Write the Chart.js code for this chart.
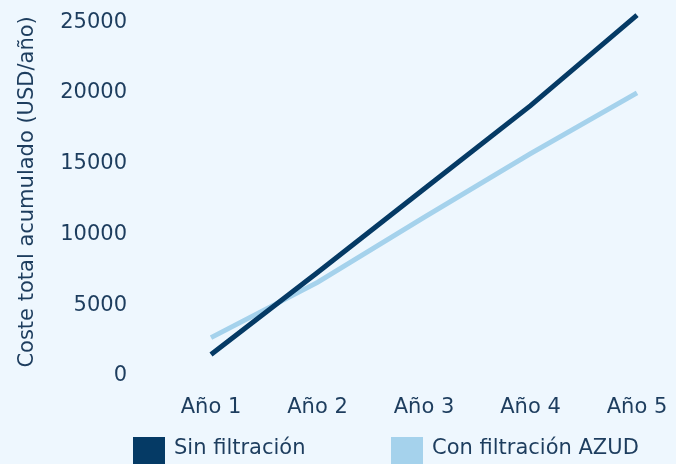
<!DOCTYPE html>
<html>
<head>
<meta charset="utf-8">
<script src="https://cdn.jsdelivr.net/npm/chart.js@4/dist/chart.umd.min.js"></script>
<style>
  html, body { margin: 0; padding: 0; background: #eef7fe; overflow: hidden; }
  canvas { display: block; }
</style>
</head>
<body>
<canvas id="chart" width="676" height="464"></canvas>
<script>
const years = ['Año 1', 'Año 2', 'Año 3', 'Año 4', 'Año 5'];
const sinFiltracion = [1500, 7300, 13200, 19100, 25500];
const conFiltracion = [2700, 6600, 11200, 15700, 20000];
const yTicks = [0, 5000, 10000, 15000, 20000, 25000];
const yMax = 26000;

const textColor = '#1d3d5e';
const fontFamily = '"DejaVu Sans", sans-serif';

// legend drawn by hand so the boxes sit where the original has them
const bottomLegend = {
  id: 'bottomLegend',
  afterDraw(chart) {
    const ctx = chart.ctx;
    const spots = [133, 391];
    ctx.save();
    ctx.font = '21px ' + fontFamily;
    ctx.textBaseline = 'middle';
    ctx.textAlign = 'left';
    chart.data.datasets.forEach((ds, i) => {
      const x = spots[i];
      ctx.fillStyle = ds.borderColor;
      ctx.fillRect(x, 437, 32, 30);
      ctx.fillStyle = textColor;
      ctx.fillText(ds.label, x + 41, 449);
    });
    ctx.restore();
  },
};

new Chart(document.getElementById('chart'), {
  type: 'line',
  data: {
    labels: years,
    datasets: [
      {
        label: 'Sin filtración',
        data: sinFiltracion,
        borderColor: '#053a65',
        backgroundColor: '#053a65',
        borderWidth: 5,
        pointRadius: 0,
        tension: 0,
      },
      {
        label: 'Con filtración AZUD',
        data: conFiltracion,
        borderColor: '#a5d2ec',
        backgroundColor: '#a5d2ec',
        borderWidth: 5,
        pointRadius: 0,
        tension: 0,
      },
    ],
  },
  options: {
    responsive: false,
    animation: false,
    layout: {
      padding: { top: 8, right: 39, bottom: 25, left: 0 },
    },
    scales: {
      x: {
        offset: false,
        grid: { display: false, drawTicks: false },
        border: { display: false },
        ticks: {
          color: textColor,
          font: { family: fontFamily, size: 21 },
          padding: 19,
          maxRotation: 0,
        },
        afterFit(scale) {
          // tick padding would otherwise widen the side margins
          scale.paddingLeft = 0;
          scale.paddingRight = 0;
        },
      },
      y: {
        min: 0,
        max: yMax,
        grid: { display: false, drawTicks: false },
        border: { display: false },
        ticks: {
          color: textColor,
          font: { family: fontFamily, size: 21 },
          padding: 84,
          callback: (v) => String(v),
        },
        afterBuildTicks(scale) {
          scale.ticks = yTicks.map((v) => ({ value: v }));
        },
        afterFit(scale) {
          scale.width = 211;
          scale.paddingTop = 0;
          scale.paddingBottom = 0;
        },
        title: {
          display: true,
          text: 'Coste total acumulado (USD/año)',
          color: textColor,
          font: { family: fontFamily, size: 21 },
          padding: { top: 15, bottom: 0 },
        },
      },
    },
    plugins: {
      legend: { display: false },
      tooltip: { enabled: false },
    },
  },
  plugins: [bottomLegend],
});
</script>
</body>
</html>
